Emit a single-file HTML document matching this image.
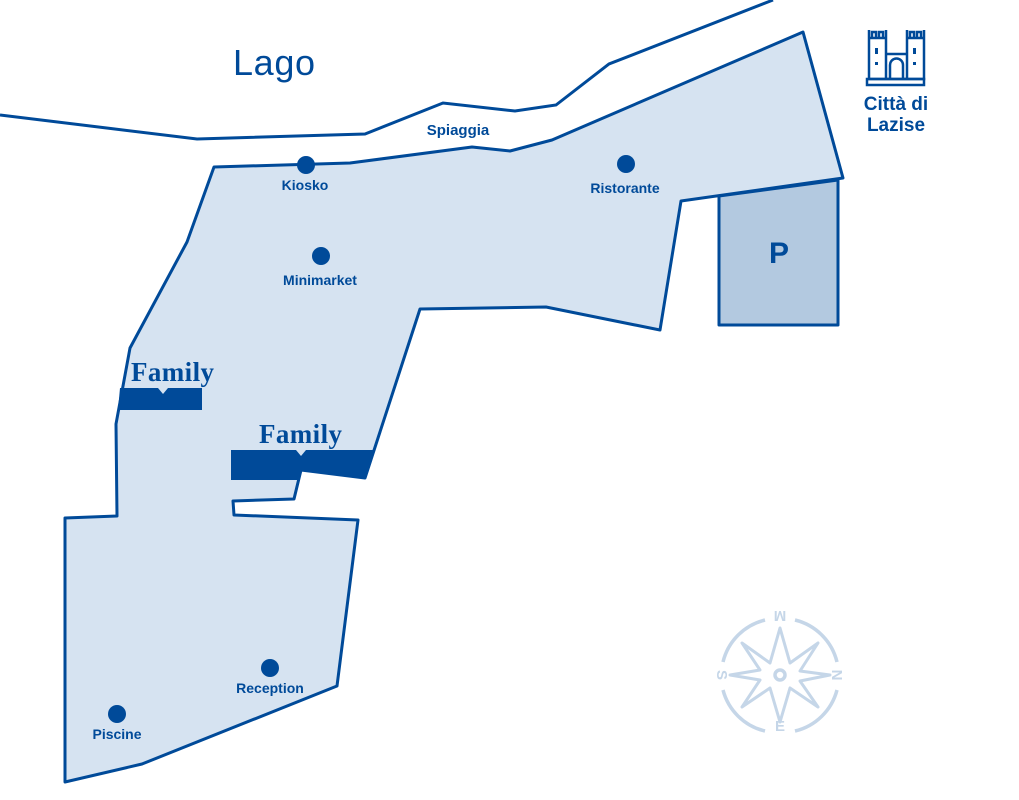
<!DOCTYPE html>
<html><head><meta charset="utf-8"><style>
body{margin:0;background:#fff}
svg{display:block}
text{font-family:"Liberation Sans",sans-serif;fill:#004a99}
text.c{fill:#c5d6e8}
</style></head><body>
<svg width="1019" height="800" viewBox="0 0 1019 800">
<polyline points="0,115 197,139 365,134 443,103 515,111 556,105 609,64 773,0" fill="none" stroke="#004a99" stroke-width="3"/>
<polygon points="214,167 350,163 472,147 510,151 552,140 803,32 843,178 681,201 660,330 546,307 420,309 365,478 301,470 294,499 233,501 234,515 358,520 337,686 142,764 65,782 65,518 117,516 116,424 130,348 187,242" fill="#d6e3f1" stroke="#004a99" stroke-width="3" stroke-linejoin="round"/>
<polygon points="719,196 838,180 838,325 719,325" fill="#b3c9e0" stroke="#004a99" stroke-width="3" stroke-linejoin="round"/>
<text x="779" y="263" font-size="30" font-weight="bold" text-anchor="middle">P</text>
<text x="233" y="75" font-size="36" textLength="82">Lago</text>
<text x="458" y="135" font-size="15" font-weight="bold" text-anchor="middle">Spiaggia</text>
<g fill="#004a99">
<circle cx="306" cy="165" r="9"/><circle cx="626" cy="164" r="9"/><circle cx="321" cy="256" r="9"/><circle cx="270" cy="668" r="9"/><circle cx="117" cy="714" r="9"/>
</g>
<g font-size="14" font-weight="bold" text-anchor="middle">
<text x="305" y="190">Kiosko</text>
<text x="625" y="193">Ristorante</text>
<text x="320" y="285">Minimarket</text>
<text x="270" y="693">Reception</text>
<text x="117" y="739">Piscine</text>
</g>
<polygon points="120,388 158,388 163,394 168,388 202,388 202,410 118,410" fill="#004a99"/>
<polygon points="231,450 296,450 301,456 306,450 375,450 365,479 301,471 299,480 231,480" fill="#004a99"/>
<text x="131" y="381" font-size="27" font-weight="bold" textLength="83" style="font-family:'Liberation Serif',serif">Family</text>
<text x="259" y="443" font-size="27" font-weight="bold" textLength="83" style="font-family:'Liberation Serif',serif">Family</text>
<g fill="none" stroke="#004a99" stroke-width="2.5">
<rect x="867" y="79" width="57" height="6"/>
<path d="M869,30v8h3v-6h4v6h3v-6h4v6h3v-8M869,38h17v41h-17zM907,30v8h3v-6h4v6h3v-6h4v6h3v-8M907,38h17v41h-17zM886,54h21v25h-21zM890,79v-14a6,6 0 0 1 13,0v14"/>
</g>
<g fill="#004a99"><rect x="875" y="48" width="3" height="6"/><rect x="913" y="48" width="3" height="6"/><rect x="875" y="62" width="3" height="3"/><rect x="913" y="62" width="3" height="3"/></g>
<g font-size="19" font-weight="bold" text-anchor="middle">
<text x="896" y="110">Città di</text>
<text x="896" y="131">Lazise</text>
</g>
<g fill="none" stroke="#c5d6e8" stroke-width="3.5">
<path d="M765,620a57,57 0 0 0 -42,42M795,620a57,57 0 0 1 42,42M723,690a57,57 0 0 0 42,41M837,690a57,57 0 0 1 -42,41"/>
<polygon points="780,628 790,663 818,643 800,671 830,675 800,681 818,707 790,688 780,722 770,688 742,707 760,680 730,675 760,670 742,643 770,663" stroke-linejoin="round" stroke-width="3"/>
<circle cx="780" cy="675" r="5"/>
</g>
<g font-size="15" font-weight="bold" text-anchor="middle">
<text class="c" x="780" y="621" transform="rotate(180 780 616)">M</text>
<text class="c" x="780" y="731">E</text>
<text class="c" x="722" y="680" transform="rotate(90 722 675)">S</text>
<text class="c" x="837" y="680" transform="rotate(90 837 675)">N</text>
</g>
</svg>
</body></html>
